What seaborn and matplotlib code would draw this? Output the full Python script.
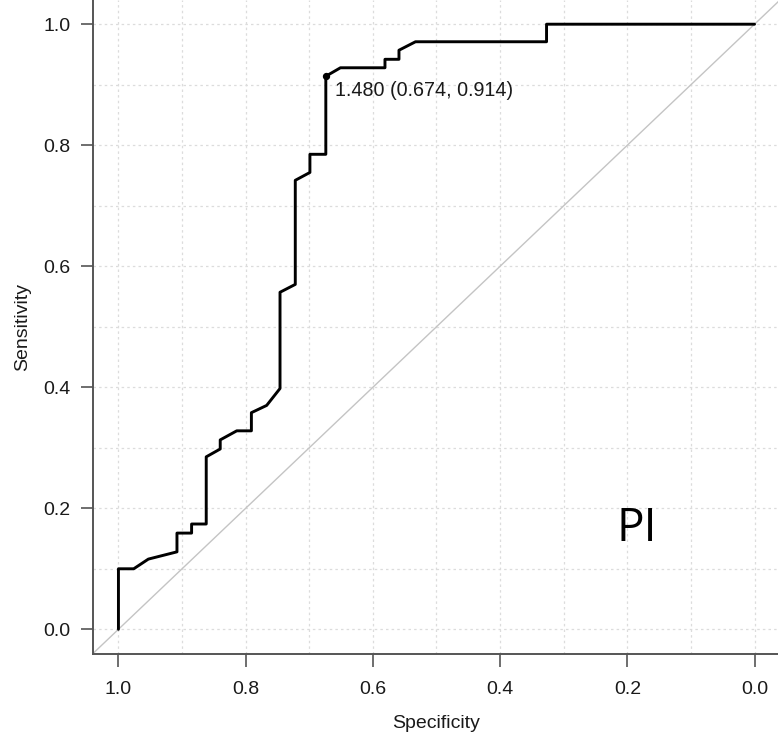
import matplotlib
matplotlib.use("Agg")
import matplotlib.pyplot as plt
import seaborn as sns
import pandas as pd
import numpy as np

# ROC curve path (specificity, sensitivity)
specificity = [1.0, 1.0, 0.976, 0.953, 0.908, 0.908, 0.885, 0.885, 0.862, 0.862,
               0.840, 0.840, 0.814, 0.791, 0.791, 0.767, 0.746, 0.746, 0.722, 0.722,
               0.699, 0.699, 0.674, 0.674, 0.651, 0.581, 0.581, 0.559, 0.559, 0.533,
               0.327, 0.327, 0.0]
sensitivity = [0.0, 0.100, 0.100, 0.116, 0.128, 0.159, 0.159, 0.174, 0.174, 0.285,
               0.298, 0.313, 0.328, 0.328, 0.358, 0.370, 0.398, 0.557, 0.570, 0.742,
               0.755, 0.785, 0.785, 0.914, 0.928, 0.928, 0.942, 0.942, 0.957, 0.971,
               0.971, 1.0, 1.0]

best_threshold = 1.480
best_spec = 0.674
best_sens = 0.914
label_text = "PI"

tick_values = [1.0, 0.8, 0.6, 0.4, 0.2, 0.0]
tick_labels = ["1.0", "0.8", "0.6", "0.4", "0.2", "0.0"]
grid_values = [0.0, 0.1, 0.2, 0.3, 0.4, 0.5, 0.6, 0.7, 0.8, 0.9, 1.0]

sns.set_theme(style="white")
plt.rcParams['font.family'] = ['Liberation Sans', 'DejaVu Sans']

fig = plt.figure(figsize=(7.78, 7.40), dpi=100)
ax = fig.add_axes([93 / 778, 86.5 / 740, (780 - 93) / 778, 653.5 / 740])

df = pd.DataFrame({"spec": specificity, "sens": sensitivity})

# grid
for g in grid_values:
    ax.axvline(g, color="#dcdcdc", lw=0.9, ls=(0, (2, 2.5)), zorder=0)
    ax.axhline(g, color="#dcdcdc", lw=0.9, ls=(0, (2, 2.5)), zorder=0)

# diagonal
ax.plot([1.04, -0.04], [-0.04, 1.04], color="#c4c4c4", lw=1.0, zorder=1)

sns.lineplot(data=df, x="spec", y="sens", sort=False, estimator=None,
             color="black", lw=2.1, ax=ax, zorder=3)

ax.scatter([best_spec], [best_sens], s=18, color="black", zorder=4)
ax.annotate(f"{best_threshold:.3f} ({best_spec:.3f}, {best_sens:.3f})",
            xy=(best_spec, best_sens), xytext=(6.5, -10), textcoords="offset points",
            ha="left", va="center", fontsize=14.2, color="#1a1a1a")

ax.text(0.185, 0.166, label_text, fontsize=33, ha="center", va="center",
        color="black", family=["Open Sans", "DejaVu Sans"])

ax.set_xlim(1.04, -0.04)
ax.set_ylim(-0.04, 1.04)
ax.set_xticks(tick_values)
ax.set_xticklabels(tick_labels)
ax.set_yticks(tick_values[::-1])
ax.set_yticklabels(tick_labels[::-1])
ax.tick_params(axis="both", direction="out", length=9, width=1.2, color="#555555",
               labelsize=14, labelcolor="#1a1a1a", pad=7, bottom=True, left=True)
ax.tick_params(axis="x", pad=11)

for s in ["top", "right"]:
    ax.spines[s].set_visible(False)
for s in ["left", "bottom"]:
    ax.spines[s].set_color("#555555")
    ax.spines[s].set_linewidth(1.4)

ax.set_xlabel("Specificity", fontsize=14, color="#1a1a1a", labelpad=12)
ax.set_ylabel("Sensitivity", fontsize=14, color="#1a1a1a", labelpad=9)

fig.savefig("out.png", dpi=100)
